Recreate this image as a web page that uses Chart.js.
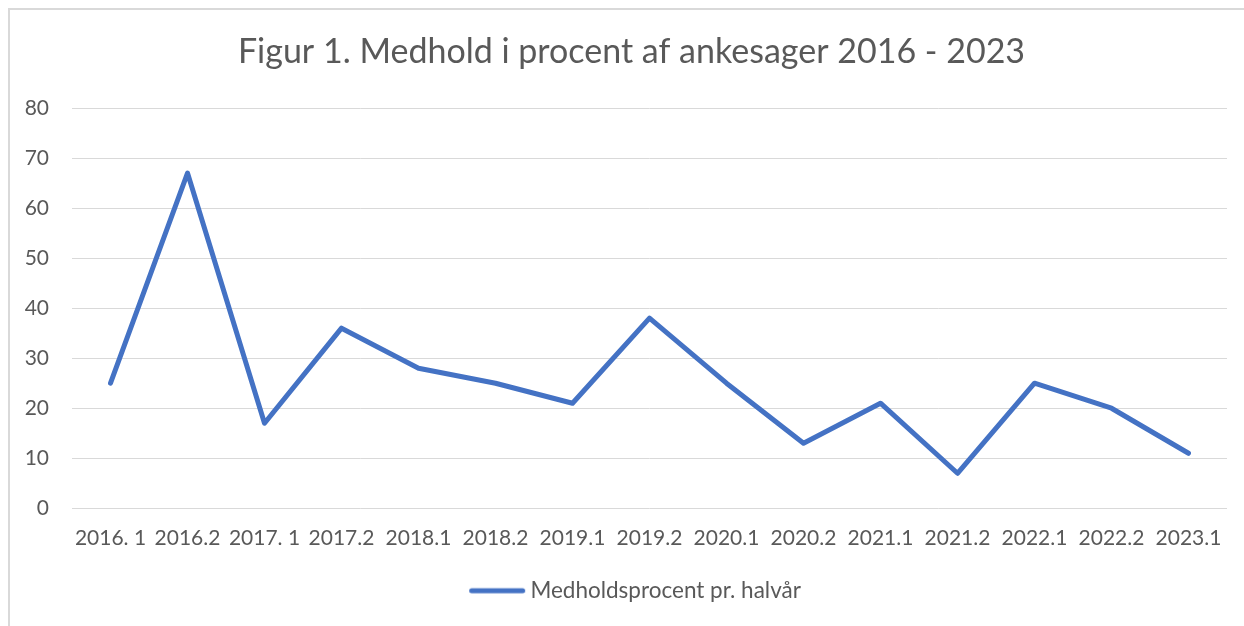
<!DOCTYPE html>
<html>
<head>
<meta charset="utf-8">
<script src="https://cdn.jsdelivr.net/npm/chart.js@4.4.0/dist/chart.umd.min.js"></script>
<style>
  html, body { margin: 0; padding: 0; background: #ffffff; }
  #wrap { position: relative; width: 1244px; height: 626px; overflow: hidden; }
  canvas { display: block; }
</style>
</head>
<body>
<div id="wrap"><canvas id="c" width="1244" height="626"></canvas></div>
<script>
const categories = ["2016. 1", "2016.2", "2017. 1", "2017.2", "2018.1", "2018.2", "2019.1", "2019.2", "2020.1", "2020.2", "2021.1", "2021.2", "2022.1", "2022.2", "2023.1"];
const medholdValues = [25, 67, 17, 36, 28, 25, 21, 38, 25, 13, 21, 7, 25, 20, 11];
const seriesLabel = "Medholdsprocent pr. halvår";
const titleText = "Figur 1. Medhold i procent af ankesager 2016 - 2023";
const yMin = 0, yMax = 80, yStep = 10;

const FONT = "Lato, 'Open Sans', sans-serif";
const TEXT = "#595959";
const GRID = "#d9d9d9";
const LINE = "#4472C4";

// legend marker: a short thick line with round caps, slightly offset right
const marker = document.createElement('canvas');
marker.width = 64; marker.height = 10;
(function () {
  const m = marker.getContext('2d');
  m.strokeStyle = LINE;
  m.lineWidth = 5;
  m.lineCap = 'round';
  m.beginPath();
  m.moveTo(9.5, 5);
  m.lineTo(60.5, 5);
  m.stroke();
})();

const framePlugin = {
  id: 'frame',
  beforeDraw(chart) {
    const ctx = chart.ctx;
    ctx.save();
    ctx.fillStyle = '#ffffff';
    ctx.fillRect(0, 0, chart.width, chart.height);
    ctx.strokeStyle = GRID;
    ctx.lineWidth = 2;
    ctx.strokeRect(9, 9, chart.width + 50, chart.height + 50);
    ctx.restore();
  }
};

const shiftPlugin = {
  id: 'shiftBlocks',
  afterLayout(chart) {
    if (chart.titleBlock) { chart.titleBlock.left += 36; }
    if (chart.legend) { chart.legend.left += 21.5; chart.legend.right += 21.5; }
  }
};

new Chart(document.getElementById('c'), {
  type: 'line',
  data: {
    labels: categories,
    datasets: [{
      label: seriesLabel,
      data: medholdValues,
      borderColor: LINE,
      backgroundColor: LINE,
      borderWidth: 5,
      borderCapStyle: 'round',
      borderJoinStyle: 'round',
      pointRadius: 0,
      pointHoverRadius: 0,
      pointStyle: marker,
      tension: 0,
      fill: false
    }]
  },
  options: {
    responsive: false,
    animation: false,
    devicePixelRatio: 1,
    layout: { padding: { top: 9, right: 17, bottom: 14, left: 0 } },
    plugins: {
      title: {
        display: true,
        text: titleText,
        color: TEXT,
        font: { family: FONT, size: 34, weight: 'normal' },
        padding: { top: 22.6, bottom: 35.6 }
      },
      legend: {
        display: true,
        position: 'bottom',
        labels: {
          color: TEXT,
          font: { family: FONT, size: 22.5 },
          usePointStyle: true,
          pointStyleWidth: 50,
          boxHeight: 5,
          padding: 12
        }
      },
      tooltip: { enabled: false }
    },
    scales: {
      x: {
        offset: true,
        grid: { display: false, drawTicks: false },
        border: { display: false },
        ticks: {
          color: TEXT,
          font: { family: FONT, size: 21 },
          padding: 17,
          maxRotation: 0,
          autoSkip: false
        }
      },
      y: {
        min: yMin,
        max: yMax,
        grid: { color: GRID, lineWidth: 1, drawTicks: false },
        border: { display: false },
        ticks: {
          stepSize: yStep,
          color: TEXT,
          font: { family: FONT, size: 21 },
          padding: 23
        },
        afterFit(scale) { scale.width = 72; }
      }
    }
  },
  plugins: [framePlugin, shiftPlugin]
});
</script>
</body>
</html>
